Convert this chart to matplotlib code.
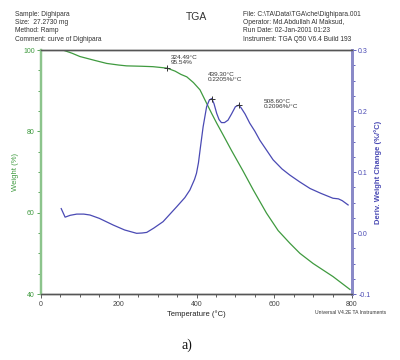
import matplotlib
matplotlib.use("Agg")
import matplotlib.pyplot as plt
from matplotlib.ticker import MultipleLocator

plt.rcParams['font.family'] = ['Liberation Sans', 'DejaVu Sans']

# Weight (%) curve
temp_w = [56, 80, 100, 140, 169, 200, 220, 260, 288, 324.5, 345, 360, 375, 392, 409,
          426, 439, 452, 468, 490, 520, 546, 580, 610, 640, 666, 700, 751, 795]
weight = [100, 99.2, 98.4, 97.4, 96.7, 96.3, 96.1, 96.0, 95.9, 95.54, 94.8, 94.0, 93.4,
          92.0, 90.2, 86.9, 84.4, 82.0, 79.2, 75.3, 70.2, 65.6, 59.9, 55.6, 52.5, 50.0,
          47.5, 44.3, 41.1]

# Derivative weight change (%/°C)
temp_d = [52, 62, 75, 92, 110, 126, 150, 186, 215, 246, 260, 272, 290, 314, 349, 370,
          383, 395, 400, 405, 410, 417, 426, 433, 439.3, 445, 452, 458, 464, 472, 481,
          490, 500, 508.6, 515, 525, 537, 550, 563, 580, 597, 620, 640, 665, 692, 720,
          751, 765, 775, 790]
deriv = [0.040, 0.026, 0.029, 0.031, 0.031, 0.0295, 0.024, 0.013, 0.005, -0.0005, 0.0,
         0.001, 0.008, 0.0186, 0.043, 0.058, 0.0705, 0.088, 0.098, 0.115, 0.140, 0.174,
         0.207, 0.218, 0.2205, 0.212, 0.196, 0.186, 0.181, 0.181, 0.185, 0.195, 0.207,
         0.2096, 0.205, 0.195, 0.180, 0.167, 0.152, 0.136, 0.120, 0.105, 0.095, 0.084,
         0.073, 0.065, 0.057, 0.056, 0.053, 0.046]

# Annotated points
ann_w = (324.49, 95.54)
ann_d1 = (439.30, 0.2205)
ann_d2 = (508.60, 0.2096)

green = '#3f9a3f'
blue = '#4a4ab4'

fig = plt.figure(figsize=(4, 3.6), dpi=100)
ax = fig.add_axes([0.1025, 0.1833, 0.7775, 0.6778])
ax2 = ax.twinx()

ax.plot(temp_w, weight, color=green, lw=0.9)
ax2.plot(temp_d, deriv, color=blue, lw=0.9)

ax.plot([ann_w[0]], [ann_w[1]], marker='+', color='#333333', ms=5, mew=0.7)
ax2.plot([ann_d1[0]], [ann_d1[1]], marker='+', color='#333333', ms=5, mew=0.7)
ax2.plot([ann_d2[0]], [ann_d2[1]], marker='+', color='#333333', ms=5, mew=0.7)

ax.set_xlim(0, 800)
ax.set_ylim(40, 100)
ax2.set_ylim(-0.1, 0.3)

ax.set_xticks([0, 200, 400, 600, 800])
ax.set_yticks([40, 60, 80, 100])
ax2.set_yticks([-0.1, 0.0, 0.1, 0.2, 0.3])
ax2.set_yticklabels(['-0.1', '0.0', '0.1', '0.2', '0.3'])
ax.xaxis.set_minor_locator(MultipleLocator(50))
ax.yaxis.set_minor_locator(MultipleLocator(5))
ax2.yaxis.set_minor_locator(MultipleLocator(0.025))

ax.tick_params(axis='x', which='major', length=3, width=0.6, labelsize=5, colors='#444444', pad=2)
ax.tick_params(axis='x', which='minor', length=2, width=0.6, colors='#444444')
ax.tick_params(axis='y', which='major', length=3, width=0.6, labelsize=5, colors=green, pad=1.5)
ax.tick_params(axis='y', which='minor', length=2, width=0.6, colors=green)
ax2.tick_params(axis='y', which='major', length=3, width=0.6, labelsize=5, colors=blue, pad=1.5)
ax2.tick_params(axis='y', which='minor', length=2, width=0.6, colors=blue)

for a in (ax, ax2):
    a.spines['top'].set_color('#555555')
    a.spines['top'].set_linewidth(1.0)
    a.spines['bottom'].set_color('#555555')
    a.spines['bottom'].set_linewidth(1.0)
    a.spines['left'].set_color('#8cc48c')
    a.spines['left'].set_linewidth(1.6)
    a.spines['right'].set_color('#8a8ac8')
    a.spines['right'].set_linewidth(2.0)

ax.set_xlabel('Temperature (°C)', fontsize=5.5, color='#222222', labelpad=2)
ax.set_ylabel('Weight (%)', fontsize=5.5, color=green, labelpad=3)
ax2.set_ylabel('Deriv. Weight Change (%/°C)', fontsize=5.5, color=blue, labelpad=3,
               fontweight='bold')

# Annotation texts
fig.text(171 / 400, 1 - 55 / 360, '324.49°C\n95.54%', fontsize=4.6, color='#333333',
         va='top', ha='left', linespacing=1.1)
fig.text(208 / 400, 1 - 72 / 360, '439.30°C\n0.2205%/°C', fontsize=4.6, color='#333333',
         va='top', ha='left', linespacing=1.1)
fig.text(264 / 400, 1 - 99 / 360, '508.60°C\n0.2096%/°C', fontsize=4.6, color='#333333',
         va='top', ha='left', linespacing=1.1)

# Header texts
fig.text(15 / 400, 1 - 11 / 360,
         'Sample: Dighipara\nSize:  27.2730 mg\nMethod: Ramp\nComment: curve of Dighipara',
         fontsize=4.8, color='#333333', va='top', ha='left', linespacing=1.25)
fig.text(196 / 400, 1 - 17 / 360, 'TGA', fontsize=7.5, color='#333333', va='center',
         ha='center')
fig.text(243 / 400, 1 - 11 / 360,
         'File: C:\\TA\\Data\\TGA\\che\\Dighipara.001\nOperator: Md.Abdullah Al Maksud,\n'
         'Run Date: 02-Jan-2001 01:23\nInstrument: TGA Q50 V6.4 Build 193',
         fontsize=4.8, color='#333333', va='top', ha='left', linespacing=1.25)
fig.text(315 / 400, 1 - 312 / 360, 'Universal V4.2E TA Instruments', fontsize=3.6,
         color='#333333', va='center', ha='left')
fig.text(187 / 400, 1 - 345 / 360, 'a)', fontsize=10, color='#111111', va='center',
         ha='center', family=['Liberation Serif', 'DejaVu Serif'])

fig.savefig('out.png', dpi=100)
